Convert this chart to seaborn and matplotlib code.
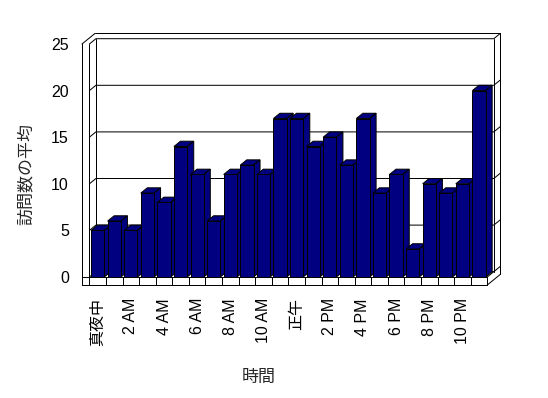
import numpy as np
import matplotlib
matplotlib.use('Agg')
import matplotlib.pyplot as plt
from matplotlib.patches import Polygon
from matplotlib.lines import Line2D
from matplotlib.transforms import IdentityTransform
import pandas as pd
import seaborn as sns

# データ: 時間ごとの訪問数の平均
hours = list(range(24))
visits = [5, 6, 5, 9, 8, 14, 11, 6, 11, 12, 11, 17, 17, 14, 15, 12, 17, 9, 11, 3, 10, 9, 10, 20]
tick_labels = ['真夜中', '2 AM', '4 AM', '6 AM', '8 AM', '10 AM',
               '正午', '2 PM', '4 PM', '6 PM', '8 PM', '10 PM']
y_ticks = [0, 5, 10, 15, 20, 25]

sns.set_style('white')
plt.rcParams['font.family'] = ['Liberation Sans', 'Noto Sans CJK JP']

W, H = 548, 398
fig = plt.figure(figsize=(W / 72, H / 72), dpi=72)
fig.patch.set_facecolor('white')
ax = fig.add_axes([89.4 / W, (H - 277) / H, (487.3 - 89.4) / W, (277 - 44) / H])

df = pd.DataFrame({'hour': hours, 'visits': visits})
navy = '#000080'
sns.barplot(data=df, x='hour', y='visits', color=navy, saturation=1, width=0.8,
            edgecolor='black', linewidth=1, ax=ax)

ax.set_xlim(-0.5, 23.5)
ax.set_ylim(0, 25)
ax.patch.set_visible(False)
for s in ['top', 'right', 'bottom']:
    ax.spines[s].set_visible(False)
slab = 7.4   # 左壁の厚さ (px)
floor = 8    # 床の厚さ (px)
ax.spines['left'].set_position(('outward', slab))
ax.spines['left'].set_linewidth(1)
ax.spines['left'].set_color('black')

ax.set_yticks(y_ticks)
ax.tick_params(axis='y', length=3, width=1, pad=10, labelsize=16, direction='out', colors='black')
ax.set_xticks(range(0, 24, 2))
ax.set_xticklabels(tick_labels, rotation=90, fontsize=16)
ax.tick_params(axis='x', length=0, pad=21, colors='black')

ax.set_xlabel('時間', fontsize=17, va='center')
ax.xaxis.set_label_coords(0.426, -0.429)
ax.set_ylabel('訪問数の平均', fontsize=17, va='center')
ax.yaxis.set_label_coords(-0.159, 0.444)

# 3D風の奥行き (display座標)
d = np.array([6.5, 5.3])
ident = IdentityTransform()


def P(x, y):
    return np.array(ax.transData.transform((x, y)))


def line(pts, z=1):
    pts = np.array(pts)
    ax.add_line(Line2D(pts[:, 0], pts[:, 1], transform=ident, color='black',
                       lw=1, clip_on=False, zorder=z))


x0, x1 = -0.5, 23.5
top = y_ticks[-1]

# 背面のグリッド線
for v in y_ticks:
    line([P(x0, v), P(x0, v) + d, P(x1, v) + d, P(x1, v) + 2 * d])

# 背面の壁
line([P(x0, 0) + d, P(x0, top) + d])
line([P(x1, 0) + d, P(x1, top) + d])
line([P(x1, 0) + 2 * d - [0, floor], P(x1, top) + 2 * d])
line([P(x0, top) - [slab, 0] + 2 * d, P(x1, top) + 2 * d])

# 左の壁
line([P(x0, top) - [slab, 0], P(x0, top) - [slab, 0] + 2 * d])
line([P(x0, 0) - [slab, floor], P(x0, top) - [slab, 0]], z=5)
line([P(x0, 0) - [0, floor], P(x0, top)], z=5)

# 床
line([P(x0, 0) - [slab, 0], P(x1, 0)], z=5)
line([P(x0, 0) - [slab, floor], P(x1, 0) - [0, floor]], z=5)
for k in range(25):
    b = k - 0.5
    line([P(b, 0), P(b, 0) - [0, floor]], z=5)
line([P(x1, 0), P(x1, 0) + d])
line([P(x1, 0) - [0, floor], P(x1, 0) - [0, floor] + 2 * d])

# 棒の上面と側面
bars = sorted(ax.patches, key=lambda p: p.get_x())
for i, p in enumerate(bars):
    x, w, h = p.get_x(), p.get_width(), p.get_height()
    z = 3 + i * 0.01
    top_face = [P(x, h), P(x + w, h), P(x + w, h) + d, P(x, h) + d]
    side_face = [P(x + w, 0), P(x + w, h), P(x + w, h) + d, P(x + w, 0) + d]
    for face in (top_face, side_face):
        ax.add_patch(Polygon(face, closed=True, transform=ident, facecolor=navy,
                             edgecolor='black', lw=1, clip_on=False, zorder=z))
    p.set_zorder(z + 0.005)
    p.set_clip_on(False)

fig.savefig('out.png', dpi=72, facecolor='white')
